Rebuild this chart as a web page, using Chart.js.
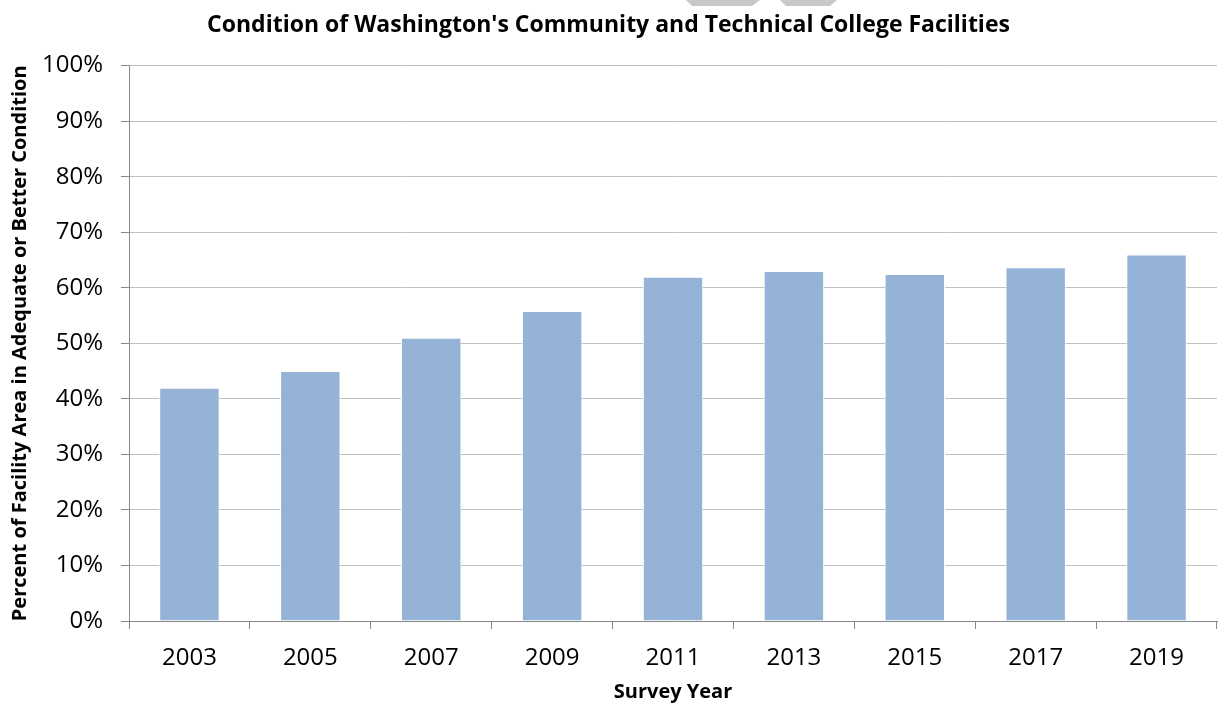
<!DOCTYPE html>
<html>
<head>
<meta charset="utf-8">
<script src="https://cdn.jsdelivr.net/npm/chart.js@4/dist/chart.umd.min.js"></script>
<style>
html,body{margin:0;padding:0;background:#fff;}
#wrap{width:1222px;height:704px;position:relative;}
</style>
</head>
<body>
<div id="wrap"><canvas id="c" width="1222" height="704"></canvas></div>
<script>
const categories = ["2003","2005","2007","2009","2011","2013","2015","2017","2019"];
const percentAdequate = [42, 45, 51, 55.8, 62, 63, 62.5, 63.7, 66];
const yTickValues = [0,10,20,30,40,50,60,70,80,90,100];

const FONT = "'Open Sans', sans-serif";

const decoPlugin = {
  id: 'deco',
  beforeDraw(chart) {
    const ctx = chart.ctx;
    ctx.save();
    ctx.fillStyle = '#c8c8c8';
    ctx.beginPath();
    ctx.moveTo(686,0); ctx.lineTo(760,0); ctx.lineTo(752,6); ctx.lineTo(692,6); ctx.closePath();
    ctx.fill();
    ctx.beginPath();
    ctx.moveTo(780,0); ctx.lineTo(837,0); ctx.lineTo(830,6); ctx.lineTo(786,6); ctx.closePath();
    ctx.fill();
    ctx.restore();
  }
};

new Chart(document.getElementById('c'), {
  type: 'bar',
  data: {
    labels: categories,
    datasets: [{
      data: percentAdequate,
      backgroundColor: '#95b3d7',
      borderColor: '#ffffff',
      borderWidth: {top:1,left:1,right:1,bottom:0},
      barPercentage: 0.5,
      categoryPercentage: 1.0
    }]
  },
  plugins: [decoPlugin],
  options: {
    responsive: false,
    animation: false,
    layout: { padding: { top: 0, right: 5, bottom: 0, left: 0 } },
    plugins: {
      legend: { display: false },
      tooltip: { enabled: false },
      title: {
        display: true,
        text: "Condition of Washington's Community and Technical College Facilities",
        color: '#000',
        font: { family: FONT, size: 23, weight: 'bold' },
        padding: { top: 12, bottom: 26 }
      }
    },
    scales: {
      x: {
        grid: {
          offset: true,
          drawOnChartArea: false,
          drawTicks: true,
          tickLength: 8,
          color: '#888888',
          lineWidth: 1
        },
        border: { display: true, color: '#888888', width: 1 },
        ticks: {
          color: '#000',
          font: { family: FONT, size: 24 },
          padding: 15
        },
        title: {
          display: true,
          text: 'Survey Year',
          color: '#000',
          font: { family: FONT, size: 20, weight: 'bold' },
          padding: { top: 4, bottom: 0 }
        },
        afterFit(scale) { scale.height = 83; }
      },
      y: {
        min: 0,
        max: 100,
        afterBuildTicks(scale) { scale.ticks = yTickValues.map(v => ({ value: v })); },
        grid: {
          color: '#c0c0c0',
          lineWidth: 1,
          tickLength: 8,
          tickColor: '#888888'
        },
        border: { display: true, color: '#888888', width: 1 },
        ticks: {
          color: '#000',
          font: { family: FONT, size: 24 },
          padding: 18,
          callback: v => v + '%'
        },
        title: {
          display: true,
          text: 'Percent of Facility Area in Adequate or Better Condition',
          color: '#000',
          font: { family: FONT, size: 20, weight: 'bold' },
          padding: { top: 8, bottom: 4 }
        },
        afterFit(scale) { scale.width = 129; }
      }
    }
  }
});
</script>
</body>
</html>
